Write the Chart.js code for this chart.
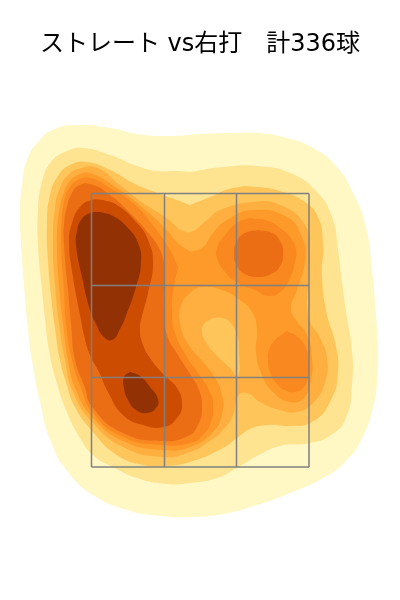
<!DOCTYPE html>
<html><head><meta charset="utf-8">
<script src="https://cdn.jsdelivr.net/npm/chart.js@4"></script>
<style>html,body{margin:0;padding:0;background:#fff}canvas{display:block}</style>
</head><body><canvas id="c" width="400" height="600"></canvas>
<script>
const titleText = "ストレート vs右打　計336球";
const level1 = [[200,134],[167,136],[137,134],[110,128],[80,125],[55,129],[38,142],[27,160],[22,185],[20,210],[21,243],[24,285],[27,320],[32,360],[40,402],[51,442],[68,472],[93,495],[127,510],[160,516],[190,517],[223,514],[257,505],[290,493],[323,478],[347,460],[363,436],[373,408],[377,382],[378,348],[376,315],[372,270],[366,227],[353,193],[337,167],[313,148],[287,138],[257,133],[230,133]];
const level2 = [[190,172],[177,171],[157,171],[137,166],[110,155],[83,148],[67,151],[51,162],[42,182],[38,210],[38,243],[41,280],[45,318],[49,350],[56,380],[66,410],[80,438],[94,456],[113,467],[137,478],[167,484],[190,483],[217,478],[237,468],[257,456],[280,446],[310,443],[331,435],[346,418],[352,385],[352,350],[347,318],[342,283],[338,250],[332,217],[316,191],[290,173],[257,166],[223,167]];
const level3 = [[190,205],[177,200],[157,193],[135,184],[110,170],[87,162],[70,165],[58,176],[50,195],[47,225],[48,260],[51,295],[55,328],[60,360],[66,382],[75,407],[93,432],[117,455],[143,465],[163,466],[190,462],[223,448],[237,438],[250,429],[268,425],[290,426],[312,422],[330,402],[338,372],[335,342],[327,315],[322,277],[323,243],[318,217],[305,202],[283,192],[257,187],[233,188],[210,197]];
const level4 = [[180,230],[165,217],[143,203],[120,185],[97,168],[78,169],[67,176],[60,188],[55,207],[53,243],[55,285],[59,323],[65,360],[73,392],[93,423],[123,447],[163,457],[190,452],[207,443],[223,430],[233,415],[238,396],[247,393],[260,402],[280,410],[297,412],[313,403],[325,382],[327,358],[320,338],[309,318],[308,283],[310,253],[305,225],[280,205],[253,202],[220,210],[207,220],[191,232]];
const island3 = [[213,318],[204,324],[202,332],[206,342],[217,356],[230,368],[238,377],[239,350],[237,335],[230,322],[222,318]];
const level5 = [[191,252],[178,243],[165,228],[143,208],[117,188],[90,173],[78,175],[70,181],[64,192],[59,212],[57,243],[59,285],[63,323],[68,360],[76,390],[93,418],[123,441],[163,450],[190,447],[213,432],[222,414],[222,395],[214,376],[203,362],[188,344],[180,323],[181,306],[190,293],[202,287],[222,290],[240,300],[252,312],[257,330],[256,352],[262,375],[273,392],[290,402],[304,398],[311,380],[312,358],[307,335],[296,320],[291,308],[297,290],[305,260],[302,237],[287,217],[253,210],[227,220],[213,233],[203,247]];
const level6main = [[178,267],[170,250],[155,228],[133,203],[110,188],[90,178],[78,180],[70,187],[65,198],[62,217],[61,243],[64,290],[66,323],[72,360],[80,385],[93,413],[123,437],[163,445],[190,443],[202,436],[211,422],[213,405],[210,392],[198,373],[187,357],[175,333],[172,310],[173,292]];
const level6top = [[250,218],[237,223],[225,235],[217,248],[217,258],[225,272],[238,283],[255,290],[268,296],[280,292],[290,278],[295,262],[296,250],[290,237],[280,228],[268,221]];
const level6right = [[287,331],[275,340],[269,350],[268,360],[270,372],[277,384],[287,391],[295,392],[303,388],[308,378],[309,362],[306,348],[298,337]];
const level7main = [[164,262],[160,250],[150,235],[130,213],[110,195],[90,184],[78,186],[72,193],[67,207],[64,225],[64,243],[68,290],[71,323],[75,360],[84,385],[93,408],[123,433],[163,441],[188,436],[198,425],[202,408],[199,390],[190,374],[178,355],[167,335],[164,310],[164,285]];
const level7top = [[258,230],[272,233],[280,241],[283,253],[280,266],[271,274],[258,277],[245,274],[237,266],[234,253],[237,241],[245,233]];
const level8 = [[103,200],[92,200],[80,207],[72,223],[69,243],[73,277],[77,300],[80,315],[84,335],[90,355],[99,372],[108,392],[123,415],[143,425],[164,427],[177,418],[182,405],[177,388],[164,375],[150,358],[142,342],[140,328],[142,316],[148,293],[153,263],[148,240],[137,223],[117,205]];
const level9main = [[100,212],[90,213],[81,220],[77,231],[76,245],[82,277],[90,310],[96,324],[103,336],[112,340],[120,329],[127,313],[136,287],[141,263],[138,243],[127,227],[113,216]];
const level9low = [[130,372],[124,377],[124,388],[128,400],[136,410],[147,413],[156,408],[158,399],[150,387],[140,376]];
const zoneX = [91.5,164.5,236.5,309];
const zoneY = [193.5,285.5,377.5,467];
const pale="#FFF7C4", lemon="#FEE391", gold="#FEC55A", amber="#FEAF3F", orange="#FE9A29", deep="#F8881F", burnt="#EB6E14", rust="#CC4C02", brown="#923204";
const layers = [[level1,pale],[level2,lemon],[level3,gold],[level4,amber],[island3,gold],[level5,orange],[level6main,deep],[level6top,deep],[level6right,deep],[level7main,burnt],[level7top,burnt],[level8,rust],[level9main,brown],[level9low,brown]];
const ds = layers.map(([pts,color])=>({data:pts.concat([pts[0]]),showLine:true,fill:'shape',backgroundColor:color,borderWidth:0,borderColor:color,pointRadius:0,tension:0.5}));
const lineDs = p=>({data:p,showLine:true,fill:false,borderColor:"#808080",borderWidth:1.5,pointRadius:0,tension:0});
zoneX.forEach(x=>ds.push(lineDs([[x,zoneY[0]],[x,zoneY[3]]])));
zoneY.forEach(y=>ds.push(lineDs([[zoneX[0],y],[zoneX[3],y]])));
new Chart(document.getElementById('c'),{type:'scatter',data:{datasets:ds.reverse()},options:{
 responsive:false,animation:false,
 layout:{padding:0},
 plugins:{legend:{display:false},tooltip:{enabled:false},
  title:{display:true,text:titleText,color:"#000",padding:{top:30,bottom:0},font:{family:"'DejaVu Sans','Noto Sans CJK JP'",size:24,weight:'normal',lineHeight:1.25}}},
 scales:{x:{type:'linear',display:false,min:0,max:400},y:{type:'linear',display:false,min:60,max:600,reverse:true}}
}});
</script></body></html>
